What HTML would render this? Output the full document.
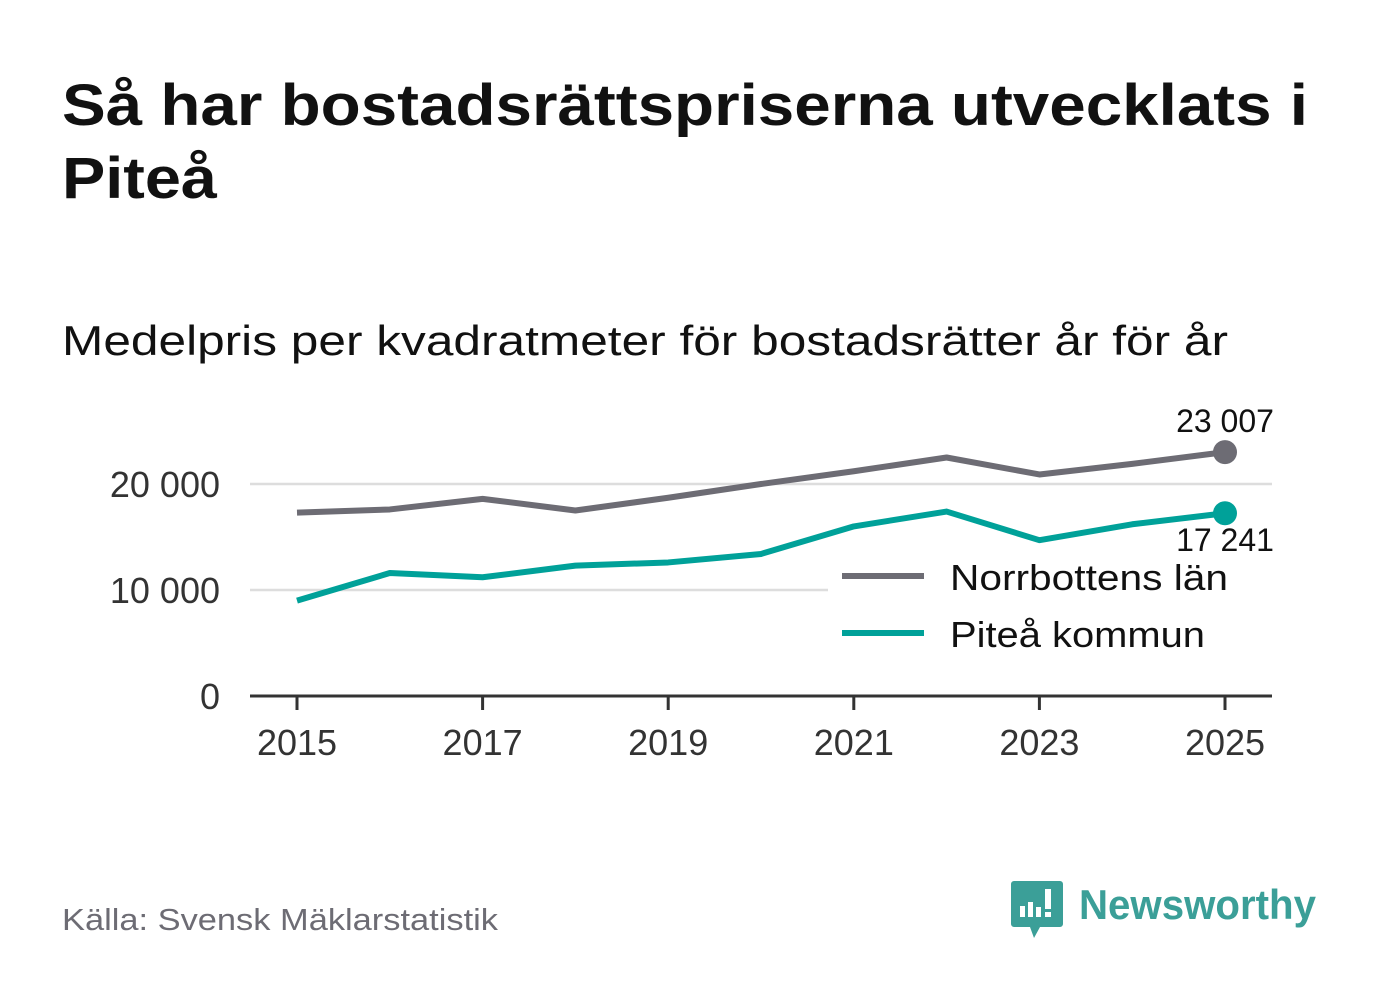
<!DOCTYPE html>
<html><head><meta charset="utf-8"><style>
html,body{margin:0;padding:0;background:#fff;}
svg{display:block;font-family:"Liberation Sans","DejaVu Sans",sans-serif;}
</style></head><body>
<svg id="chart" width="1382" height="999" viewBox="0 0 1382 999">
<text x="62" y="125" font-size="58" font-weight="bold" fill="#111" textLength="1246" lengthAdjust="spacingAndGlyphs">Så har bostadsrättspriserna utvecklats i</text>
<text x="62" y="198" font-size="58" font-weight="bold" fill="#111" textLength="155" lengthAdjust="spacingAndGlyphs">Piteå</text>
<text x="62" y="355" font-size="42" fill="#111" textLength="1166" lengthAdjust="spacingAndGlyphs">Medelpris per kvadratmeter för bostadsrätter år för år</text>
<g id="grid"></g><g id="axes"></g><g id="lines"></g>
<rect x="828" y="552" width="444" height="108" fill="#fff"/>
<g>
<line x1="842" y1="576" x2="924" y2="576" stroke="#6d6c74" stroke-width="6"/>
<text x="950" y="590" font-size="36" fill="#111" textLength="278" lengthAdjust="spacingAndGlyphs">Norrbottens län</text>
<line x1="842" y1="633" x2="924" y2="633" stroke="#00a199" stroke-width="6"/>
<text x="950" y="647" font-size="36" fill="#111" textLength="255" lengthAdjust="spacingAndGlyphs">Piteå kommun</text>
</g>
<text x="62" y="930" font-size="31" fill="#6d6c74" textLength="436" lengthAdjust="spacingAndGlyphs">Källa: Svensk Mäklarstatistik</text>
<g>
<path d="M1014 881 h46 a3 3 0 0 1 3 3 v40 a3 3 0 0 1 -3 3 h-20 l-6 11 l-4 -11 h-16 a3 3 0 0 1 -3 -3 v-40 a3 3 0 0 1 3 -3z" fill="#3b9f98"/>
<rect x="1020" y="906" width="5" height="11" fill="#fff"/><rect x="1028" y="902" width="5" height="15" fill="#fff"/><rect x="1036" y="907" width="5" height="10" fill="#fff"/><rect x="1045" y="889" width="6" height="20" fill="#fff"/><rect x="1045" y="912" width="6" height="5" fill="#fff"/>
<text x="1079" y="919" font-size="42" font-weight="bold" fill="#3b9f98" textLength="237" lengthAdjust="spacingAndGlyphs">Newsworthy</text>
</g>
</svg>
<script>
const years=[2015,2016,2017,2018,2019,2020,2021,2022,2023,2024,2025];
const norrbotten=[17300,17600,18600,17500,18700,20000,21200,22500,20900,21900,23007];
const pitea=[9000,11600,11200,12300,12600,13400,16000,17400,14700,16200,17241];
const yTicks=[0,10000,20000];
const yTickLabels=["0","10 000","20 000"];
const xTicks=[2015,2017,2019,2021,2023,2025];
const NS='http://www.w3.org/2000/svg';
const xs=y=>297+(y-2015)*(1225-297)/10;
const ys=v=>696-v*(696-484)/20000;
function mk(tag,attrs,parent,text){const e=document.createElementNS(NS,tag);for(const k in attrs)e.setAttribute(k,attrs[k]);if(text!==undefined)e.textContent=text;parent.appendChild(e);return e;}
const grid=document.getElementById('grid'),axes=document.getElementById('axes'),lines=document.getElementById('lines');
yTicks.forEach((t,i)=>{
 if(t>0){const g=mk('line',{x1:250,x2:1272,y1:ys(t),y2:ys(t),stroke:'#ddd','stroke-width':2.5},grid);
 
 }
 const l=mk('text',{x:220,y:ys(t)+13,'font-size':36,fill:'#333','text-anchor':'end'},axes,yTickLabels[i]);
 
 
});
const ax=mk('line',{x1:250,x2:1272,y1:696,y2:696,stroke:'#333','stroke-width':3},axes);


xTicks.forEach(t=>{
 const tk=mk('line',{x1:xs(t),x2:xs(t),y1:696,y2:710,stroke:'#333','stroke-width':3},axes);
 
 
 const l=mk('text',{x:xs(t),y:755,'font-size':36,fill:'#333','text-anchor':'middle'},axes,String(t));
 
 
});
function series(vals,color,name){
 const p=mk('polyline',{points:vals.map((v,i)=>xs(years[i])+','+ys(v)).join(' '),fill:'none',stroke:color,'stroke-width':6,'stroke-linejoin':'round'},lines);
 
 
 const n=vals.length-1;
 const c=mk('circle',{cx:xs(years[n]),cy:ys(vals[n]),r:12,fill:color},lines);
 
 
 return vals[n];
}
const fmt=v=>String(v).replace(/\B(?=(\d{3})+(?!\d))/g,' ');
const ln=series(norrbotten,'#6d6c74','norrbotten');
const lp=series(pitea,'#00a199','pitea');
const a=mk('text',{x:1225,y:ys(ln)-20,'font-size':32,fill:'#111','text-anchor':'middle'},lines,fmt(ln));


const b=mk('text',{x:1225,y:ys(lp)+38,'font-size':32,fill:'#111','text-anchor':'middle'},lines,fmt(lp));


</script>
</body></html>
